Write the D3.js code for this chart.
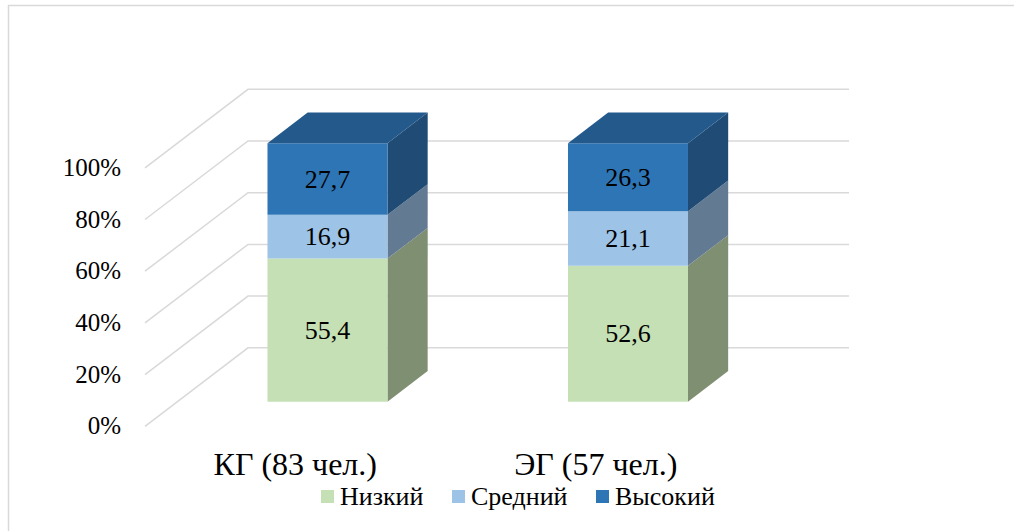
<!DOCTYPE html>
<html>
<head>
<meta charset="utf-8">
<script src="https://cdn.jsdelivr.net/npm/d3@7"></script>
<style>
  body { margin: 0; background: #fff; }
  svg { display: block; }
</style>
</head>
<body>
<svg id="chart" width="1014" height="531"></svg>
<script>
// data
const groups = ["КГ (83 чел.)", "ЭГ (57 чел.)"];
const levels = ["Низкий", "Средний", "Высокий"];
const low = [55.4, 52.6];
const mid = [16.9, 21.1];
const high = [27.7, 26.3];
const yTicks = [0, 20, 40, 60, 80, 100];

const frontCol = ["#C5E0B4", "#9DC3E6", "#2E75B6"],
      sideCol = ["#7F8F72", "#637A93", "#1F4B75"],
      topCol = "#23598B";
const FONT = "'Liberation Serif', 'Times New Roman', serif";

const svg = d3.select("#chart");

// chart border
svg.append("rect")
  .attr("x", 8.5).attr("y", 5.5)
  .attr("width", 1020).attr("height", 540)
  .attr("fill", "none").attr("stroke", "#D9D9D9").attr("stroke-width", 1.5);

// front plane scales, depth vector for the 3d look
let x = d3.scaleBand().domain(groups).range([145, 746]);
let y = d3.scaleLinear().domain([0, 100]).range([426.3, 167.8]);
const DX = 103, DY = -78.5;
const tFront = 0.313, tBack = 0.703;
const barW = 120;

function P(px, v, t) { return [px + t * DX, y(v) + t * DY]; }

// gridlines: floor diagonal + back wall
let grid = svg.append("g");
yTicks.forEach(v => {
  let a = P(145, v, 0), b = P(145, v, 1), c = P(746, v, 1);
  grid.append("path")
    .attr("d", d3.line()([a, b, c]))
    .attr("fill", "none")
    .attr("stroke", "#D9D9D9")
    .attr("stroke-width", 1.5);
});

// y labels
svg.append("g").selectAll("text")
  .data(yTicks).join("text")
  .attr("x", 121)
  .attr("y", d => y(d) + 8)
  .attr("text-anchor", "end")
  .style("font-family", FONT)
  .style("font-size", "25px")
  .text(d => d + "%");

// stack
let rows = groups.map((g, i) => ({ g: g, vals: [low[i], mid[i], high[i]] }));
let poly = pts => "M" + pts.map(p => p.join(",")).join("L") + "Z";

rows.forEach(r => {
  let x0 = x(r.g) + (x.bandwidth() - barW) / 2, x1 = x0 + barW;
  let bar = svg.append("g");
  let acc = 0;
  r.vals.forEach((v, k) => {
    let b = acc, t = acc + v;
    acc = t;
    // side face
    bar.append("path")
      .attr("d", poly([P(x1, b, tFront), P(x1, b, tBack), P(x1, t, tBack), P(x1, t, tFront)]))
      .attr("fill", sideCol[k]);
    // front face
    bar.append("path")
      .attr("d", poly([P(x0, b, tFront), P(x1, b, tFront), P(x1, t, tFront), P(x0, t, tFront)]))
      .attr("fill", frontCol[k]);
    let c = P((x0 + x1) / 2, (b + t) / 2, tFront);
    bar.append("text")
      .attr("x", c[0]).attr("y", c[1] + 8.5)
      .attr("text-anchor", "middle")
      .style("font-family", FONT)
      .style("font-size", "26px")
      .text(d3.format(".1f")(v).replace(".", ","));
  });
  // top face
  bar.append("path")
    .attr("d", poly([P(x0, acc, tFront), P(x1, acc, tFront), P(x1, acc, tBack), P(x0, acc, tBack)]))
    .attr("fill", topCol);
});

// category labels
svg.append("g").selectAll("text")
  .data(groups).join("text")
  .attr("x", d => x(d) + x.bandwidth() / 2)
  .attr("y", 475)
  .attr("text-anchor", "middle")
  .style("font-family", FONT)
  .style("font-size", "32px")
  .text(d => d);

// legend
const legX = [321, 452, 596];
let leg = svg.append("g").selectAll("g")
  .data(levels).join("g")
  .attr("transform", (d, i) => `translate(${legX[i]},490)`);
leg.append("rect")
  .attr("width", 13).attr("height", 13)
  .attr("fill", (d, i) => frontCol[i]);
leg.append("text")
  .attr("x", 19).attr("y", 14.5)
  .style("font-family", FONT)
  .style("font-size", "26px")
  .text(d => d);
</script>
</body>
</html>
